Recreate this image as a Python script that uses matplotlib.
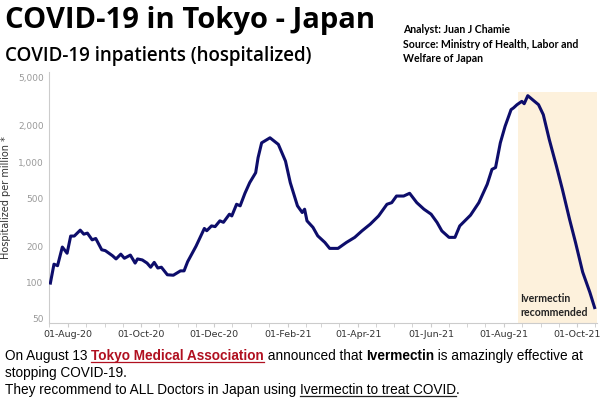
import numpy as np
import pandas as pd
import matplotlib
matplotlib.use("Agg")
import matplotlib.pyplot as plt
import matplotlib.dates as mdates
from matplotlib.ticker import FixedLocator, FuncFormatter, NullLocator

# Hospitalized per million
dates = [
    "2020-07-17", "2020-07-20", "2020-07-23", "2020-07-27", "2020-07-31",
    "2020-08-03", "2020-08-06", "2020-08-11", "2020-08-14", "2020-08-17",
    "2020-08-21", "2020-08-24", "2020-08-29", "2020-09-01", "2020-09-07",
    "2020-09-10", "2020-09-14", "2020-09-17", "2020-09-22", "2020-09-26",
    "2020-09-28", "2020-10-02", "2020-10-06", "2020-10-09", "2020-10-12",
    "2020-10-15", "2020-10-18", "2020-10-23", "2020-10-28", "2020-11-03",
    "2020-11-06", "2020-11-09", "2020-11-16", "2020-11-23", "2020-11-25",
    "2020-11-29", "2020-12-02", "2020-12-06", "2020-12-09", "2020-12-14",
    "2020-12-16", "2020-12-20", "2020-12-23", "2020-12-27", "2020-12-31",
    "2021-01-05", "2021-01-07", "2021-01-10", "2021-01-17", "2021-01-24",
    "2021-01-30", "2021-02-03", "2021-02-09", "2021-02-13", "2021-02-15",
    "2021-02-17", "2021-02-22", "2021-02-26", "2021-03-04", "2021-03-08",
    "2021-03-15", "2021-03-22", "2021-03-29", "2021-04-04", "2021-04-11",
    "2021-04-18", "2021-04-25", "2021-04-29", "2021-05-03", "2021-05-09",
    "2021-05-14", "2021-05-20", "2021-05-26", "2021-06-01", "2021-06-06",
    "2021-06-10", "2021-06-16", "2021-06-21", "2021-06-25", "2021-07-04",
    "2021-07-11", "2021-07-18", "2021-07-22", "2021-07-25", "2021-07-29",
    "2021-08-02", "2021-08-07", "2021-08-09", "2021-08-12", "2021-08-16",
    "2021-08-18", "2021-08-21", "2021-08-26", "2021-08-30", "2021-09-03",
    "2021-09-08", "2021-09-14", "2021-09-19", "2021-09-25", "2021-09-30",
    "2021-10-06", "2021-10-12", "2021-10-16",
]
hospitalized = [
    99, 142, 138, 197, 175,
    243, 243, 272, 252, 257,
    226, 232, 187, 184, 167,
    157, 172, 159, 169, 145,
    157, 154, 145, 134, 147,
    132, 134, 116, 115, 125,
    125, 149, 200, 281, 269,
    295, 291, 325, 316, 369,
    357, 446, 433, 550, 674,
    815, 1085, 1442, 1588, 1400,
    1016, 674, 433, 381, 406,
    325, 287, 244, 215, 192,
    192, 215, 237, 268, 305,
    357, 446, 460, 522, 522,
    550, 460, 406, 369, 315,
    268, 237, 237, 295, 362,
    460, 653, 869, 900, 1442,
    1981, 2720, 2808, 2990, 3185,
    3045, 3550, 3225, 2990, 2471,
    1537, 925, 593, 335, 215,
    122, 83, 62,
]

ivermectin_start = "2021-08-13"
ivermectin_end = "2021-10-18"

ytick_values = [50, 100, 200, 500, 1000, 2000, 5000]
xtick_dates = ["2020-08-01", "2020-10-01", "2020-12-01", "2021-02-01",
               "2021-04-01", "2021-06-01", "2021-08-01", "2021-10-01"]

x = pd.to_datetime(dates)

fig = plt.figure(figsize=(6, 3.99), dpi=100)
ax = fig.add_axes([0.082, 0.19, 0.913, 0.63])

ax.fill_between(pd.to_datetime([ivermectin_start, ivermectin_end]), 40, 3800,
                color="#fdf1dc", lw=0, zorder=0)
ax.plot(x, hospitalized, color="#0d0d6b", lw=2.2, zorder=3)

ax.set_yscale("log")
ax.set_ylim(46, 5600)
ax.set_xlim(pd.Timestamp("2020-07-16"), pd.Timestamp("2021-10-18"))
ax.yaxis.set_major_locator(FixedLocator(ytick_values))
ax.yaxis.set_minor_locator(NullLocator())
ax.yaxis.set_major_formatter(FuncFormatter(lambda v, p: f"{int(v):,}"))
ax.tick_params(axis="y", length=0, labelsize=6.5, labelcolor="#999999", pad=4)

ax.xaxis.set_major_locator(FixedLocator(mdates.date2num(pd.to_datetime(xtick_dates))))
ax.xaxis.set_major_formatter(mdates.DateFormatter("%d-%b-%y"))
ax.xaxis.set_minor_locator(mdates.DayLocator(bymonthday=[1, 16]))
ax.tick_params(axis="x", which="both", length=3, color="#cccccc",
               labelsize=6.8, labelcolor="#333333", pad=2)

for s in ["top", "right"]:
    ax.spines[s].set_visible(False)
ax.spines["left"].set_color("#cccccc")
ax.spines["bottom"].set_color("#cccccc")

ax.set_ylabel("Hospitalized per million *", fontsize=7, color="#333333", labelpad=5)

ax.text(pd.Timestamp("2021-08-15"), 50.5, "Ivermectin\nrecommended",
        fontsize=7.6, fontweight="bold", color="#222222", family="Lato",
        va="bottom", ha="left", linespacing=1.35)

fig.text(0.008, 0.948, "COVID-19 in Tokyo - Japan", fontsize=21,
         fontweight="bold", family="Open Sans", va="center")
fig.text(0.008, 0.86, "COVID-19 inpatients (hospitalized)", fontsize=13.5,
         fontweight="semibold", family="Open Sans", va="center")
fig.text(0.672, 0.94, "Analyst: Juan J Chamie\nSource: Ministry of Health, Labor and\nWelfare of Japan",
         fontsize=7.6, fontweight="bold", family="Lato", va="top", linespacing=1.4)

# bottom note, built piece by piece
fs = 9.8
fam = "Liberation Sans"
y1, y2, y3 = 0.098, 0.055, 0.013
renderer = fig.canvas.get_renderer()

def put(xpos, ypos, s, **kw):
    t = fig.text(xpos, ypos, s, fontsize=fs, family=fam, va="baseline", **kw)
    bb = t.get_window_extent(renderer=renderer)
    return t, bb

def underline(bb, ypos, color):
    x0, x1 = bb.x0 / fig.bbox.width, bb.x1 / fig.bbox.width
    fig.add_artist(plt.Line2D([x0, x1], [ypos - 0.006, ypos - 0.006],
                              color=color, lw=0.9, transform=fig.transFigure))

_, bb = put(0.008, y1, "On August 13 ")
xp = bb.x1 / fig.bbox.width
_, bb = put(xp, y1, "Tokyo Medical Association", color="#b01020", fontweight="bold")
underline(bb, y1, "#b01020")
xp = bb.x1 / fig.bbox.width
_, bb = put(xp, y1, " announced that ")
xp = bb.x1 / fig.bbox.width
_, bb = put(xp, y1, "Ivermectin", fontweight="bold")
xp = bb.x1 / fig.bbox.width
put(xp, y1, " is amazingly effective at")
put(0.008, y2, "stopping COVID-19.")
_, bb = put(0.008, y3, "They recommend to ALL Doctors in Japan using ")
xp = bb.x1 / fig.bbox.width
_, bb = put(xp, y3, "Ivermectin to treat COVID")
underline(bb, y3, "#222222")
xp = bb.x1 / fig.bbox.width
put(xp, y3, ".")

fig.savefig("out.png", dpi=100)
